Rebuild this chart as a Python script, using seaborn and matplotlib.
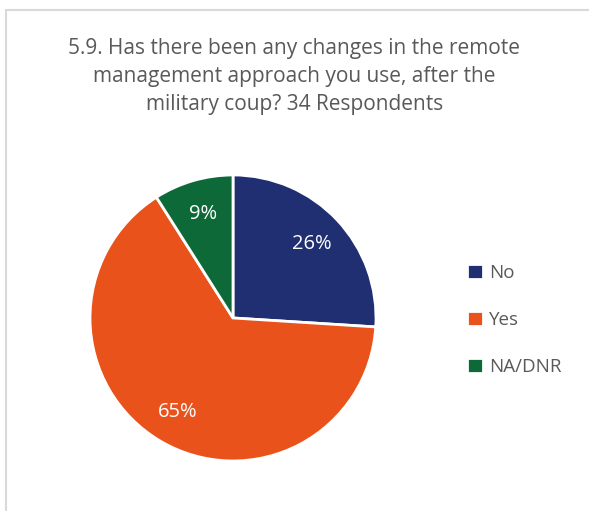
import matplotlib
matplotlib.use("Agg")
import matplotlib.pyplot as plt
import seaborn as sns
from matplotlib.patches import Rectangle

categories = ["No", "Yes", "NA/DNR"]
shares = [26, 65, 9]
colors = ["#1F2F72", "#EA521C", "#0D6A38"]
title = ("5.9. Has there been any changes in the remote\n"
         "management approach you use, after the\n"
         "military coup? 34 Respondents")

sns.set_theme(style="white")
plt.rcParams['font.family'] = ['Open Sans', 'DejaVu Sans']

fig = plt.figure(figsize=(5.89, 5.11), dpi=100)
fig.patch.set_facecolor("white")

# light frame like the spreadsheet chart border
fig.patches.append(Rectangle((6 / 589, -0.1), 1.2, 1 - 10 / 511 + 0.1,
                             transform=fig.transFigure, fill=False,
                             edgecolor="#D9D9D9", linewidth=1.5))

ax = fig.add_axes([0.1528, 0.0979, 0.4856, 0.5597])
wedges, texts, autotexts = ax.pie(
    shares, colors=colors, startangle=90, counterclock=False,
    autopct=lambda p: f"{p:.0f}%", pctdistance=0.76,
    wedgeprops=dict(edgecolor="white", linewidth=2),
    textprops=dict(color="white", fontsize=14.5))
ax.set_xlim(-1.0, 1.0)
ax.set_ylim(-1.0, 1.0)
ax.set_aspect("equal")

fig.text(0.5, 0.925, title, ha="center", va="top", fontsize=15,
         color="#595959", linespacing=1.42)

leg = fig.legend(wedges, categories, loc="center left",
                 bbox_to_anchor=(0.765, 0.373), frameon=False,
                 fontsize=13.5, handlelength=0.85, handleheight=0.85,
                 handletextpad=0.3, labelspacing=1.55)
for t in leg.get_texts():
    t.set_color("#595959")

fig.savefig("out.png", dpi=100)
